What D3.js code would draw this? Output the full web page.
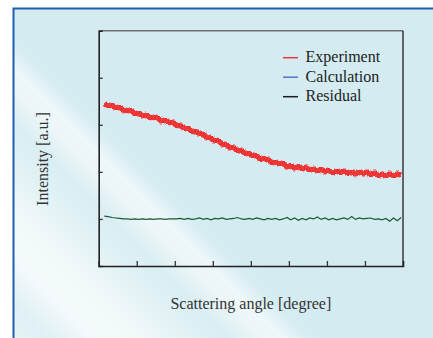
<!DOCTYPE html>
<html><head><meta charset="utf-8">
<script src="https://cdn.jsdelivr.net/npm/d3@7"></script>
<style>html,body{margin:0;padding:0;background:#fff;}svg{display:block;}</style>
</head><body>
<script>
// ---- data ----
const angles = [0.15,0.25,0.35,0.45,0.55,0.65,0.75,0.85,0.95,1.05,1.15,1.25,1.35,1.45,1.55,1.65,1.75,1.85,1.95,2.05,2.15,2.25,2.35,2.45,2.55,2.65,2.75,2.85,2.95,3.05,3.15,3.25,3.35,3.45,3.55,3.65,3.75,3.85,3.95,4.05,4.15,4.25,4.35,4.45,4.55,4.65,4.75,4.85,4.95,5.05,5.15,5.25,5.35,5.45,5.55,5.65,5.75,5.85,5.95,6.05,6.15,6.25,6.35,6.45,6.55,6.65,6.75,6.85,6.95,7.05,7.15,7.25,7.35,7.45,7.55,7.65,7.75,7.85,7.95];
const experiment = [3.45,3.40,3.42,3.36,3.37,3.31,3.31,3.30,3.24,3.25,3.20,3.21,3.15,3.16,3.15,3.08,3.09,3.05,3.05,2.98,2.98,2.93,2.93,2.86,2.86,2.81,2.80,2.73,2.72,2.66,2.66,2.59,2.58,2.51,2.51,2.45,2.45,2.39,2.40,2.34,2.34,2.27,2.28,2.26,2.20,2.21,2.17,2.18,2.11,2.13,2.08,2.11,2.07,2.09,2.04,2.06,2.02,2.05,2.01,2.03,1.98,2.02,1.99,2.01,1.97,2.00,1.96,2.00,1.97,1.99,1.94,1.98,1.92,1.95,1.91,1.96,1.91,1.96,1.93];
const residual = [1.06,1.05,1.03,1.02,1.01,1.00,1.00,0.99,1.00,0.99,1.00,0.99,1.00,0.99,1.00,1.00,0.99,1.00,1.00,1.00,1.01,0.99,1.01,0.99,1.00,1.02,0.99,1.01,0.98,1.01,1.00,1.02,0.99,1.00,1.01,1.03,1.00,0.99,1.01,0.99,1.02,1.00,0.98,1.01,0.99,1.01,0.98,1.00,1.03,0.98,1.02,0.97,1.01,0.98,1.02,1.00,1.04,0.99,1.02,0.98,1.01,0.98,1.00,1.02,0.99,1.05,0.99,1.02,1.00,1.01,1.02,0.99,1.00,0.98,1.01,0.95,1.02,0.96,1.03];
const calcAngles = [0.15,0.9,1.8,2.3,2.85,3.53,4.24,4.69,5.1,5.74,6.16,6.6,7.06,7.5,7.95];
const calculation = [3.44,3.27,3.07,2.93,2.75,2.50,2.29,2.19,2.10,2.04,2.00,1.99,1.97,1.94,1.94];
const xTicks = [1,2,3,4,5,6,7];
const yTicks = [1,2,3,4];
const legendLabels = ["Experiment","Calculation","Residual"];
const legendColors = ["#e8383a","#5874c4","#1c1c1c"];

const W = 433, H = 338;
const m = {left: 98.7, right: 30, top: 30.7, bottom: 72};
const svg = d3.select("body").append("svg").attr("width", W).attr("height", H);

// background gradient panel
const defs = svg.append("defs");
const g = defs.append("linearGradient").attr("id","bg").attr("gradientUnits","userSpaceOnUse")
  .attr("x1",200).attr("y1",200).attr("x2",30).attr("y2",370);
[[0,"#d3ebf1"],[30,"#d6edf2"],[55,"#eef7f9"],[75,"#ecf6f8"],[110,"#d9eef3"],[150,"#e2f2f5"],[200,"#f1f9fa"],[240,"#f4fafc"],[290,"#dff0f4"],[340,"#e8f4f7"]]
  .forEach(([d,c]) => g.append("stop").attr("offset", d/340).attr("stop-color", c));
svg.append("rect").attr("x",13).attr("y",8).attr("width",W).attr("height",H).attr("fill","url(#bg)");
svg.append("path").attr("d",`M13.5,${H}V8.5H${W}`).attr("fill","none").attr("stroke","#1f5fb3").attr("stroke-width",2);

const x = d3.scaleLinear().domain([0,8]).range([m.left, W - m.right]);
const y = d3.scaleLinear().domain([0,5]).range([H - m.bottom, m.top]);

// frame top/right
svg.append("line").attr("x1",x(0)).attr("x2",x(8)).attr("y1",y(5)).attr("y2",y(5)).attr("stroke","#707070").attr("stroke-width",1.5);
svg.append("line").attr("x1",x(8)).attr("x2",x(8)).attr("y1",y(5)).attr("y2",y(0)).attr("stroke","#3a3a3a").attr("stroke-width",1.5);

// axes
const xa = svg.append("g").attr("transform",`translate(0,${y(0)})`)
  .call(d3.axisBottom(x).tickValues(xTicks).tickSize(-5).tickFormat(""));
const ya = svg.append("g").attr("transform",`translate(${x(0)},0)`)
  .call(d3.axisLeft(y).tickValues(yTicks).tickSize(-4).tickFormat(""));
[xa,ya].forEach(a => {
  a.select(".domain").attr("stroke","#222").attr("stroke-width",1.6);
  a.selectAll(".tick line").attr("stroke","#333").attr("stroke-width",1.3);
});

// lines
const line = d3.line().x(d => x(d[0])).y(d => y(d[1]));
svg.append("path").datum(d3.zip(calcAngles, calculation))
  .attr("d", line.curve(d3.curveMonotoneX)).attr("fill","none").attr("stroke","#5874c4").attr("stroke-width",1.3);
const line2 = d3.line().x(d => x(d[0])).y(d => y(d[1]));
svg.append("path").datum(d3.zip(angles, experiment))
  .attr("d", line2).attr("fill","none").attr("stroke","#ec2f2f").attr("stroke-width",5)
  .attr("stroke-linejoin","bevel").attr("shape-rendering","crispEdges");
svg.append("path").datum(d3.zip(angles, experiment))
  .attr("d", line2).attr("fill","none").attr("stroke","#f25050").attr("stroke-width",7)
  .attr("stroke-dasharray","1 2").attr("stroke-opacity",0.55).attr("shape-rendering","crispEdges");
svg.append("path").datum(d3.zip(angles, residual))
  .attr("d", line2).attr("fill","none").attr("stroke","#1a5a36").attr("stroke-width",1.2);

// legend
const lg = svg.append("g");
legendLabels.forEach((t,i) => {
  const yy = 57.7 + i*19.5;
  lg.append("line").attr("x1",283).attr("x2",298).attr("y1",yy).attr("y2",yy).attr("stroke",legendColors[i]).attr("stroke-width",1.5);
  lg.append("text").attr("x",305.5).attr("y",yy+4.5).text(t)
    .attr("font-family","'Liberation Serif', serif").attr("font-size",16).attr("fill","#222");
});

// axis titles
svg.append("text").attr("x",(x(0)+x(8))/2).attr("y",309).attr("text-anchor","middle")
  .attr("font-family","'Liberation Serif', serif").attr("font-size",16).attr("fill","#333").text("Scattering angle [degree]");
svg.append("text").attr("transform","translate(48,159) rotate(-90)").attr("text-anchor","middle")
  .attr("font-family","'Liberation Serif', serif").attr("font-size",16).attr("fill","#333").text("Intensity [a.u.]");
</script>
</body></html>
